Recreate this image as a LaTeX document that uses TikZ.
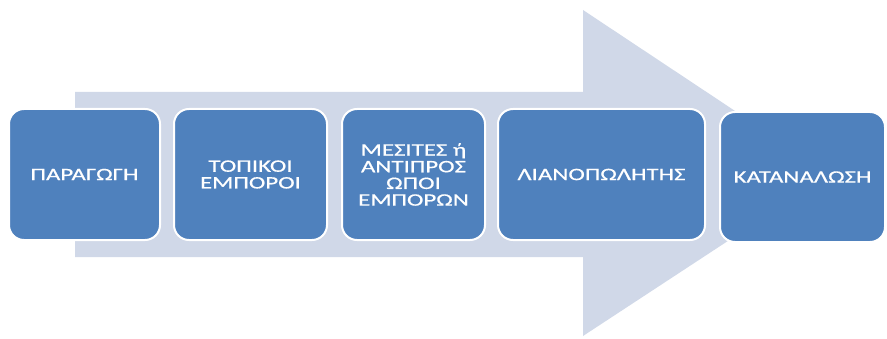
\documentclass[tikz,border=0pt]{standalone}
\usepackage{fontspec}
\setmainfont{Carlito}[FakeStretch=1.42,FakeBold=0.6]
\definecolor{boxblue}{HTML}{4F81BD}
\definecolor{arrowgray}{HTML}{D0D8E8}
\begin{document}
\begin{tikzpicture}[x=1pt,y=1pt,
  stagebox/.style={draw=white, line width=2pt, fill=boxblue, rounded corners=15pt,
    text=white, align=center, font=\fontsize{17.5}{16.7}\selectfont, inner sep=0pt}]
\useasboundingbox (0,0) rectangle (887,338);
\fill[arrowgray] (75,246) -- (583,246) -- (583,328) -- (830,164) -- (583,2) -- (583,81) -- (75,81) -- cycle;
\node[stagebox, minimum width=151pt, minimum height=131pt] (b1) at (84.5,163.5) {ΠΑΡΑΓΩΓΗ};
\node[stagebox, minimum width=153pt, minimum height=131pt] (b2) at (250.5,163.5) {ΤΟΠΙΚΟΙ\\ΕΜΠΟΡΟΙ};
\node[stagebox, minimum width=143pt, minimum height=131pt] (b3) at (413.5,163.5) {ΜΕΣΙΤΕΣ ή\\ΑΝΤΙΠΡΟΣ\\ΩΠΟΙ\\ΕΜΠΟΡΩΝ};
\node[stagebox, minimum width=207pt, minimum height=131pt] (b4) at (601.5,163.5) {ΛΙΑΝΟΠΩΛΗΤΗΣ};
\node[stagebox, minimum width=165pt, minimum height=130pt] (b5) at (802.5,161) {ΚΑΤΑΝΑΛΩΣΗ};
\end{tikzpicture}
\end{document}
